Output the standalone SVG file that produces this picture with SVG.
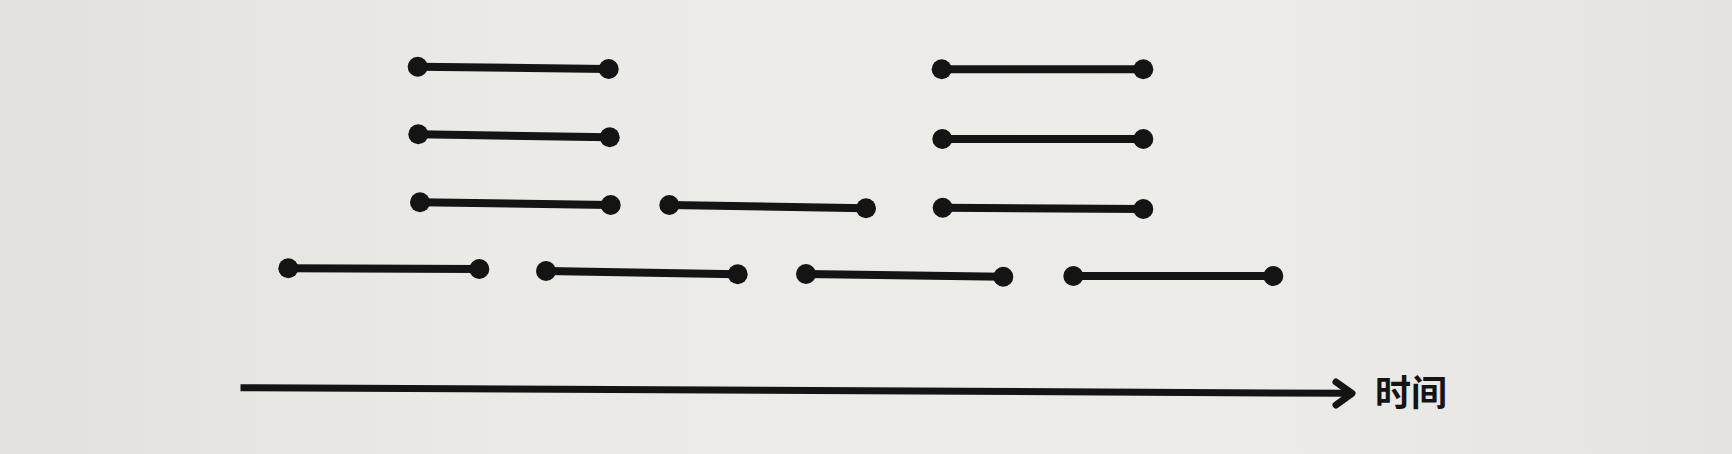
<svg xmlns="http://www.w3.org/2000/svg" width="1732" height="454" viewBox="0 0 1732 454">
<style>
.seg{stroke:#141414;stroke-width:8;stroke-linecap:round;fill:none}
.dot{fill:#141414}
.axis{stroke:#141414;stroke-width:7;fill:none}
.lbl{font-family:"Noto Sans CJK SC","Noto Sans",sans-serif;font-size:36px;font-weight:bold;fill:#141414}
</style>
<defs>
<linearGradient id="bg" x1="0" y1="0" x2="1" y2="0">
<stop offset="0" stop-color="#e2e1dd"/>
<stop offset="0.3" stop-color="#ebeae6"/>
<stop offset="0.7" stop-color="#edece9"/>
<stop offset="1" stop-color="#e4e3df"/>
</linearGradient>
</defs>
<rect width="1732" height="454" fill="url(#bg)"/>
<g id="s1"><line class="seg" x1="417.7" y1="66.7" x2="608.7" y2="69"/><circle class="dot" cx="417.7" cy="66.7" r="10"/><circle class="dot" cx="608.7" cy="69" r="10"/></g>
<g id="s2"><line class="seg" x1="418.3" y1="134.3" x2="609.7" y2="137.3"/><circle class="dot" cx="418.3" cy="134.3" r="10"/><circle class="dot" cx="609.7" cy="137.3" r="10"/></g>
<g id="s3"><line class="seg" x1="420" y1="202.3" x2="610.7" y2="205"/><circle class="dot" cx="420" cy="202.3" r="10"/><circle class="dot" cx="610.7" cy="205" r="10"/></g>
<g id="s4"><line class="seg" x1="941.7" y1="69.3" x2="1143.3" y2="69.3"/><circle class="dot" cx="941.7" cy="69.3" r="10"/><circle class="dot" cx="1143.3" cy="69.3" r="10"/></g>
<g id="s5"><line class="seg" x1="942.3" y1="139" x2="1143.3" y2="139"/><circle class="dot" cx="942.3" cy="139" r="10"/><circle class="dot" cx="1143.3" cy="139" r="10"/></g>
<g id="s6"><line class="seg" x1="942.7" y1="207.7" x2="1143.3" y2="209"/><circle class="dot" cx="942.7" cy="207.7" r="10"/><circle class="dot" cx="1143.3" cy="209" r="10"/></g>
<g id="s7"><line class="seg" x1="669.3" y1="205" x2="866" y2="208.3"/><circle class="dot" cx="669.3" cy="205" r="10"/><circle class="dot" cx="866" cy="208.3" r="10"/></g>
<g id="s8"><line class="seg" x1="288.3" y1="268.3" x2="479.3" y2="269"/><circle class="dot" cx="288.3" cy="268.3" r="10"/><circle class="dot" cx="479.3" cy="269" r="10"/></g>
<g id="s9"><line class="seg" x1="546" y1="271" x2="737.7" y2="274.3"/><circle class="dot" cx="546" cy="271" r="10"/><circle class="dot" cx="737.7" cy="274.3" r="10"/></g>
<g id="s10"><line class="seg" x1="806" y1="274" x2="1003.3" y2="276.7"/><circle class="dot" cx="806" cy="274" r="10"/><circle class="dot" cx="1003.3" cy="276.7" r="10"/></g>
<g id="s11"><line class="seg" x1="1073.3" y1="276" x2="1273.3" y2="276"/><circle class="dot" cx="1073.3" cy="276" r="10"/><circle class="dot" cx="1273.3" cy="276" r="10"/></g>
<g id="connectors">
<path class="axis" d="M240.5 387.7 L1350 393.3"/>
<path class="axis" d="M1336 382 L1352 393.3 L1336 405" stroke-width="9" stroke-linejoin="round" stroke-linecap="round"/>
</g>
<g id="label"><text class="lbl" x="1375" y="406">时间</text></g>
</svg>
